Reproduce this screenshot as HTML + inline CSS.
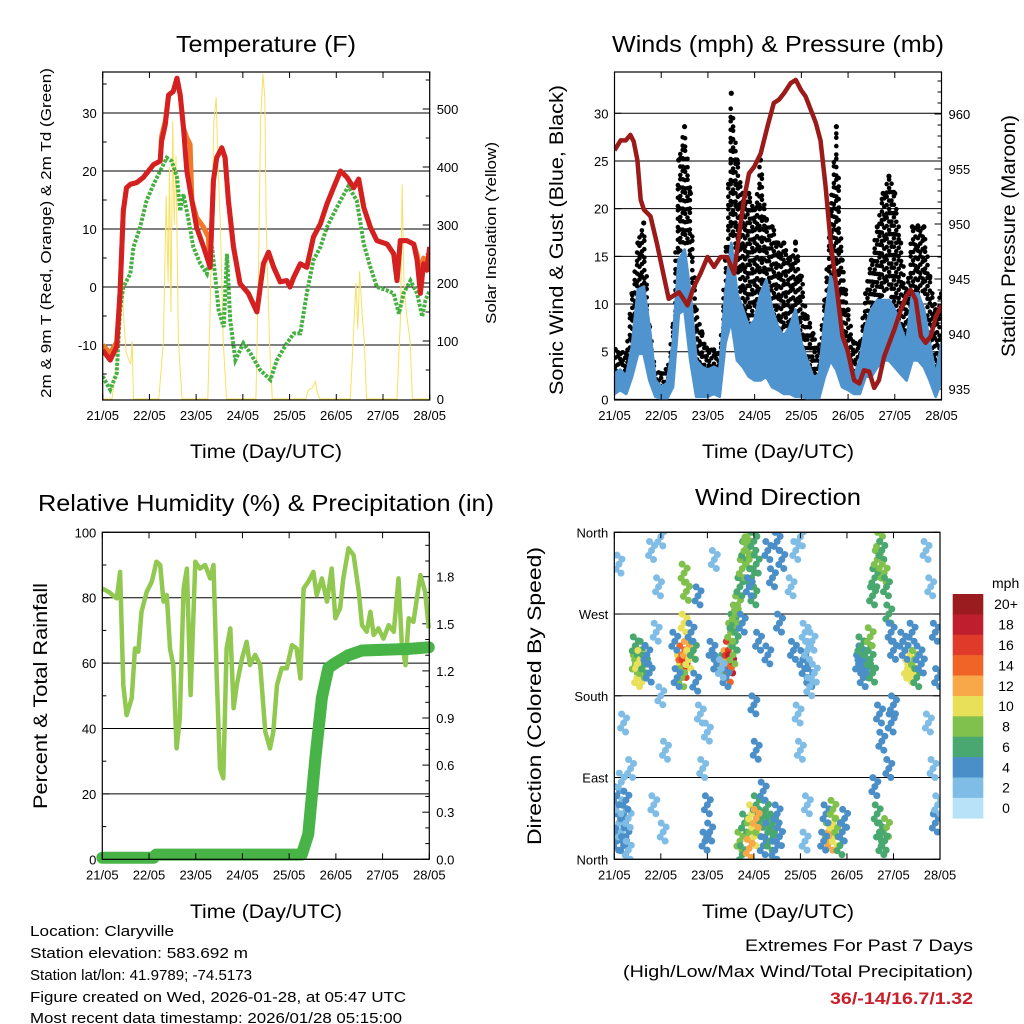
<!DOCTYPE html>
<html><head><meta charset="utf-8"><style>
html,body{margin:0;padding:0;background:#fff}
svg{display:block;font-family:"Liberation Sans",sans-serif}
</style></head><body>
<svg id="s" width="1024" height="1024" viewBox="0 0 1024 1024" xmlns="http://www.w3.org/2000/svg">
<g id="g"></g>
<text x="266" y="52" font-size="23" text-anchor="middle" textLength="180" lengthAdjust="spacingAndGlyphs">Temperature (F)</text>
<text x="778" y="52" font-size="23" text-anchor="middle" textLength="332" lengthAdjust="spacingAndGlyphs">Winds (mph) &amp; Pressure (mb)</text>
<text x="266" y="511" font-size="23" text-anchor="middle" textLength="456" lengthAdjust="spacingAndGlyphs">Relative Humidity (%) &amp; Precipitation (in)</text>
<text x="778" y="505" font-size="23" text-anchor="middle" textLength="166" lengthAdjust="spacingAndGlyphs">Wind Direction</text>
<text x="266" y="458" font-size="19" text-anchor="middle" textLength="152" lengthAdjust="spacingAndGlyphs">Time (Day/UTC)</text>
<text x="778" y="458" font-size="19" text-anchor="middle" textLength="152" lengthAdjust="spacingAndGlyphs">Time (Day/UTC)</text>
<text x="266" y="918" font-size="19" text-anchor="middle" textLength="152" lengthAdjust="spacingAndGlyphs">Time (Day/UTC)</text>
<text x="778" y="918" font-size="19" text-anchor="middle" textLength="152" lengthAdjust="spacingAndGlyphs">Time (Day/UTC)</text>
<text transform="translate(51,233) rotate(-90)" font-size="15" text-anchor="middle" textLength="330" lengthAdjust="spacingAndGlyphs">2m &amp; 9m T (Red, Orange) &amp; 2m Td (Green)</text>
<text transform="translate(496,233) rotate(-90)" font-size="15" text-anchor="middle" textLength="182" lengthAdjust="spacingAndGlyphs">Solar Insolation (Yellow)</text>
<text transform="translate(563,240) rotate(-90)" font-size="19" text-anchor="middle" textLength="310" lengthAdjust="spacingAndGlyphs">Sonic Wind &amp; Gust (Blue, Black)</text>
<text transform="translate(1015,236) rotate(-90)" font-size="19" text-anchor="middle" textLength="242" lengthAdjust="spacingAndGlyphs">Station Pressure (Maroon)</text>
<text transform="translate(47,696) rotate(-90)" font-size="19" text-anchor="middle" textLength="226" lengthAdjust="spacingAndGlyphs">Percent &amp; Total Rainfall</text>
<text transform="translate(541,696) rotate(-90)" font-size="19" text-anchor="middle" textLength="298" lengthAdjust="spacingAndGlyphs">Direction (Colored By Speed)</text>
<g font-size="15">
<text x="30" y="936" textLength="144" lengthAdjust="spacingAndGlyphs">Location: Claryville</text>
<text x="30" y="958" textLength="218" lengthAdjust="spacingAndGlyphs">Station elevation: 583.692 m</text>
<text x="30" y="980" textLength="222" lengthAdjust="spacingAndGlyphs">Station lat/lon: 41.9789; -74.5173</text>
<text x="30" y="1002" textLength="376" lengthAdjust="spacingAndGlyphs">Figure created on Wed, 2026-01-28, at 05:47 UTC</text>
<text x="30" y="1023" textLength="372" lengthAdjust="spacingAndGlyphs">Most recent data timestamp: 2026/01/28 05:15:00</text>
</g>
<text x="973" y="951" font-size="17" text-anchor="end" textLength="228" lengthAdjust="spacingAndGlyphs">Extremes For Past 7 Days</text>
<text x="973" y="977" font-size="17" text-anchor="end" textLength="350" lengthAdjust="spacingAndGlyphs">(High/Low/Max Wind/Total Precipitation)</text>
<text x="973" y="1004" font-size="17" font-weight="bold" fill="#c8202a" text-anchor="end" textLength="143" lengthAdjust="spacingAndGlyphs">36/-14/16.7/1.32</text>
</svg>
<script>
// ---- data ----
const dayLabels=["21/05","22/05","23/05","24/05","25/05","26/05","27/05","28/05"];
const tempT=[0,0.16,0.3,0.37,0.44,0.51,0.59,0.73,0.87,1.09,1.23,1.26,1.34,1.41,1.51,1.59,1.66,1.73,1.8,1.91,2.01,2.16,2.3,2.37,2.44,2.55,2.62,2.69,2.8,2.94,3.12,3.3,3.44,3.55,3.66,3.8,3.94,4.01,4.09,4.23,4.37,4.51,4.66,4.8,4.94,5.09,5.23,5.37,5.48,5.59,5.73,5.87,6.09,6.23,6.3,6.37,6.51,6.66,6.73,6.8,6.87,6.94,7];
const tempF=[-10.9,-12.6,-10.3,-1.1,13.1,17.1,17.7,18,18.9,21.1,21.7,25.1,28,33.1,33.7,36,33.1,27.4,20,14.9,10.3,6.9,3.4,18.3,22.3,24,22.3,14.9,6.9,0.6,-1.1,-4.3,4,6,3.4,0.9,1.1,0,1.7,4,3.4,8.6,10.9,14.3,17.1,20,18.9,17.1,18.6,13.7,10.3,8,7.4,5.7,1.1,8,8,7.4,4.6,-1.1,4,2.9,6.9];
const temp9T=[0,0.16,0.3,0.37,0.44,0.51,0.59,0.73,0.87,1.09,1.23,1.26,1.34,1.41,1.51,1.59,1.66,1.73,1.8,1.87,1.91,2.01,2.16,2.26,2.3,2.37,2.44,2.55,2.62,2.69,2.8,2.94,3.12,3.3,3.44,3.55,3.66,3.8,3.94,4.01,4.09,4.23,4.37,4.51,4.66,4.8,4.94,5.09,5.23,5.37,5.48,5.59,5.73,5.87,6.09,6.23,6.3,6.37,6.51,6.66,6.73,6.8,6.87,6.94,7];
const temp9F=[-10,-11.4,-9.5,-1.1,13.1,17.1,17.7,18,18.9,21.1,21.7,26,28.6,33.1,33.7,36,33.1,27.4,25.7,24.6,14.9,12,10.3,8.6,3.4,18.3,22.3,24,22.3,14.9,6.9,0.6,-1.1,-4.3,4,6,3.4,0.9,1.1,0,1.7,4,3.4,8.6,10.9,14.3,17.1,20,18.9,17.1,18.6,13.7,10.3,8,7.4,5.7,1.1,8,8,7.4,5.5,2,5,2.9,6.9];
const dewT=[0,0.16,0.3,0.37,0.44,0.59,0.66,0.8,0.94,1.09,1.23,1.37,1.48,1.59,1.66,1.73,1.84,1.94,2.09,2.23,2.34,2.41,2.48,2.59,2.66,2.73,2.84,3.01,3.16,3.37,3.59,3.73,3.94,4.09,4.23,4.37,4.51,4.66,4.8,4.94,5.09,5.26,5.44,5.59,5.73,5.87,6.09,6.23,6.34,6.44,6.59,6.73,6.84,6.91,7];
const dewF=[-15.4,-17.7,-14.9,-4,0,2.3,6.9,10.3,14.9,17.7,20,22.3,21.7,18.9,13.1,16,11.4,6.9,4,2.3,6.9,1.7,-4,-6.9,5.7,-5.7,-12.6,-9.7,-11.4,-14.3,-16,-12.6,-9.7,-8,-8,-1.1,4.6,6.9,10.3,12.6,14.9,17.4,14.9,7.4,3.4,0,-0.6,-1.1,-4.6,-1.1,1.1,-1.1,-5.1,-2.3,-0.6];
const solarT=[0,0.2,0.3,0.38,0.41,0.44,0.5,0.6,0.63,0.66,1.2,1.3,1.36,1.4,1.43,1.46,1.5,1.53,1.57,1.62,1.7,2.25,2.3,2.38,2.43,2.47,2.52,2.58,2.65,3.28,3.33,3.38,3.43,3.47,3.5,3.57,3.63,4.35,4.4,4.5,4.55,4.6,4.65,5.3,5.35,5.42,5.46,5.5,5.55,5.6,5.65,6.3,6.38,6.41,6.45,6.5,6.58,6.63,7];
const solarW=[0,0,60,200,300,150,80,60,100,0,0,100,350,200,400,150,480,300,420,100,0,0,150,480,520,400,300,100,0,0,200,480,560,520,300,100,0,0,15,20,30,10,0,0,80,200,120,220,150,100,0,0,150,370,200,150,100,0,0];
const windT=[0,0.125,0.25,0.375,0.5,0.625,0.75,0.875,1,1.125,1.25,1.375,1.5,1.625,1.75,1.875,2,2.125,2.25,2.375,2.5,2.625,2.75,2.875,3,3.125,3.25,3.375,3.5,3.625,3.75,3.875,4,4.125,4.25,4.375,4.5,4.625,4.75,4.875,5,5.125,5.25,5.375,5.5,5.625,5.75,5.875,6,6.125,6.25,6.375,6.5,6.625,6.75,6.875,7];
const gustHigh=[5.2,4.8,4.8,11.1,16.4,18.5,7.6,2.7,2.7,3.1,7.6,25.1,28.6,21.6,9.4,6.9,5.2,5.2,4.8,14.6,32.1,25.1,21.6,21.6,19.9,25.1,18.8,18.1,16.4,16.4,14.6,16.4,12.9,8.7,6.9,5.2,10.4,19.9,28.6,14.6,9.4,5.9,5.9,11.1,14.6,18.1,21.6,23.4,21.6,16.4,11.1,18.1,18.1,18.1,12.9,9.4,11.1];
const gustLow=[2,2,2.4,4.1,11.1,11.1,4.8,1,1,1.3,4.1,14.6,16.4,14.6,2.4,2,2,2.4,1.7,7.6,18.1,12.9,9.4,7.6,9.4,9.4,9.4,7.6,7.6,5.9,5.9,4.1,4.1,2.4,2,1.3,4.1,11.1,12.9,5.9,4.1,2.4,2.4,5.9,7.6,9.4,11.1,11.1,9.4,7.6,5.9,9.4,11.1,11.1,5.9,2.4,4.8];
const speedHigh=[2.7,3.1,2.4,5.5,11.5,11.8,7.6,2,1.3,1.7,5.9,14.6,15.7,11.1,4.1,3.4,3.1,3.4,3.1,11.1,16.4,11.1,9.4,7.6,8.3,11.1,12.5,9.4,7.6,6.6,7.6,9.4,5.9,4.1,2.4,2.4,8.3,12.9,11.1,5.9,4.1,2.4,4.1,7.6,9.4,10.4,10.4,10.4,9.4,7.6,5.9,11.1,11.1,9.4,5.9,2.4,5.9];
const speedLow=[0.6,1,0.6,2.4,4.8,4.8,2,0.3,0.1,0.1,1.3,9,9.4,4.1,0.3,0.3,0.3,0.6,0.3,5.9,8.3,4.1,3.4,2.4,2,2,2.4,1.3,1,0.6,0.6,0.3,0.3,0.1,0.1,0.1,2.4,4.1,3.1,1.3,1,0.6,0.6,2.4,2.4,3.4,4.1,4.1,3.4,2.7,2,4.1,4.1,3.4,2,0.3,2];
const presT=[0,0.13,0.24,0.34,0.41,0.49,0.56,0.63,0.77,0.91,1.06,1.16,1.27,1.38,1.49,1.56,1.7,1.84,1.99,2.13,2.27,2.41,2.56,2.66,2.77,2.88,2.99,3.13,3.27,3.41,3.52,3.63,3.77,3.88,3.99,4.09,4.2,4.31,4.41,4.52,4.63,4.77,4.88,4.99,5.13,5.24,5.34,5.45,5.56,5.66,5.77,5.99,6.13,6.24,6.34,6.45,6.56,6.66,6.77,6.88,7];
const presMb=[956.7,957.6,957.6,958.1,957.5,955.8,952.2,951.3,950.7,948.2,945.2,943.2,943.5,943.8,943.1,942.6,944.3,945.5,947,946.1,947,947,945.5,948.8,952.2,954.6,955.2,956.4,958.8,961,961.3,961.9,962.8,963.1,962.2,961.6,960.4,959.2,957.6,953.4,948.2,943.7,939.8,938.5,935.8,935.5,936.7,936.6,935.1,935.8,937.9,940.4,942.2,943.4,944,943.1,939.8,939.2,939.8,941.6,942.6];
const rhT=[0,0.13,0.31,0.38,0.45,0.52,0.63,0.7,0.77,0.84,0.95,1.06,1.16,1.24,1.31,1.38,1.45,1.52,1.59,1.66,1.74,1.81,1.89,1.99,2.09,2.2,2.31,2.38,2.45,2.52,2.59,2.66,2.74,2.81,2.88,2.99,3.09,3.16,3.27,3.38,3.49,3.59,3.66,3.74,3.84,3.95,4.06,4.16,4.24,4.31,4.41,4.52,4.59,4.7,4.81,4.91,4.99,5.09,5.16,5.27,5.38,5.49,5.56,5.66,5.74,5.81,5.91,6.02,6.13,6.24,6.34,6.41,6.49,6.56,6.66,6.81,6.91,6.99];
const rhPct=[82.8,81.8,79.8,87.9,53.3,44.1,49.2,64.5,63.5,75.7,81.8,84.9,91,90,78.8,80.8,64.5,59.4,33.9,43.1,82.8,88.9,50.2,91,88.9,90,85.9,90,55.3,27.8,24.8,64.5,70.6,46.2,53.3,61.4,66.5,59.4,62.5,59.4,39,33.9,39,53.3,58.4,58.4,65.5,64.5,55.3,82.8,84.9,87.9,80.8,85.9,78.8,88.9,73.7,76.8,85.9,95.1,93,81.8,71.6,69.6,75.7,68.6,70.6,67.5,71.6,69.6,85.9,66.5,59.4,73.7,72.6,86.9,81.8,70.6];
const rainT=[0,1.1,1.15,4.2,4.27,4.41,4.56,4.7,4.84,4.99,5.27,5.56,6.56,6.99];
const rainIn=[0.01,0.01,0.03,0.03,0.03,0.16,0.64,1.03,1.22,1.25,1.3,1.33,1.34,1.35];
const dirT=[0.05,0.1,0.15,0.2,0.25,0.1,0.3,0.05,0.2,0.15,0.3,0.25,
0.45,0.5,0.55,0.6,0.5,0.6,0.45,0.55,0.65,0.7,0.75,
0.1,0.2,0.35,0.8,0.95,1.0,0.9,0.85,1.05,1.1,1.0,
1.4,1.45,1.5,1.55,1.45,1.6,1.3,1.35,1.7,1.5,1.55,1.5,1.75,1.65,
1.85,1.9,2.0,2.05,1.95,2.1,2.2,2.15,1.8,2.0,
2.35,2.4,2.45,2.5,2.45,2.55,2.6,2.4,2.3,2.5,2.55,2.6,
2.65,2.7,2.75,2.8,2.85,2.9,2.95,3.0,2.75,2.85,3.0,3.05,2.9,3.1,3.0,3.05,
2.7,2.75,2.8,2.9,2.95,3.0,3.05,3.1,3.15,3.2,3.25,3.3,3.35,3.4,3.45,3.5,3.55,3.2,2.9,3.05,
3.3,3.4,3.5,3.6,3.55,3.3,3.8,3.9,4.0,3.95,4.1,4.15,4.0,3.85,
4.05,4.1,4.15,4.2,4.25,4.3,4.1,4.2,
4.6,4.65,4.7,4.75,4.8,4.85,4.55,4.7,4.9,4.5,4.95,
5.25,5.3,5.35,5.3,5.4,5.45,5.5,5.55,5.5,
5.55,5.6,5.65,5.7,5.75,5.8,5.85,5.9,5.95,6.0,5.7,5.75,5.6,5.65,5.7,5.75,5.85,5.8,5.9,5.95,6.0,
6.3,6.35,6.4,6.45,6.5,6.25,6.55,6.6,6.2,6.4,
6.7,6.8,6.9,6.95,6.85,6.9,6.95,6.75];
const dirDeg=[20,40,30,50,25,60,45,70,15,85,10,65,
215,225,205,230,200,210,235,220,215,225,205,
325,150,100,340,300,180,250,60,30,120,355,
215,225,210,230,200,220,240,200,230,260,295,315,195,250,
160,100,60,30,20,230,215,330,290,140,
215,220,230,215,205,225,240,200,210,250,260,270,
280,300,320,340,355,330,310,290,260,345,350,325,300,240,170,120,
20,5,40,30,50,25,60,35,45,15,55,30,20,40,10,50,25,75,12,45,
340,310,350,330,260,225,300,340,355,160,20,60,120,230,
220,210,230,200,240,205,250,190,
30,20,40,25,35,15,50,55,30,20,45,
215,225,200,235,210,230,220,205,245,
290,310,330,350,340,315,300,270,250,230,160,130,80,50,30,15,35,20,100,150,170,
210,205,215,220,200,230,225,215,240,250,
340,300,250,200,100,40,60,150];
const dirSpd=[3,3,2,3,3,2,2,3,4,2,2,3,
7,8,9,6,10,8,6,9,5,4,3,
1,1,1,1,2,1,2,1,1,1,1,
10,14,16,12,8,9,4,4,5,10,7,7,4,4,
2,2,4,3,3,3,3,2,3,2,
6,12,16,18,14,8,6,3,2,8,6,8,
7,6,8,6,7,8,6,5,4,8,6,5,4,4,4,4,
7,6,5,8,9,10,6,8,5,4,5,4,6,5,4,4,3,4,12,11,
4,3,4,3,4,4,2,1,1,2,2,1,2,3,
3,4,2,3,2,2,2,1,
8,12,10,9,7,6,4,8,4,4,4,
4,3,4,5,4,6,5,6,7,
6,5,7,8,6,7,5,6,4,4,4,4,4,6,5,6,8,6,4,4,4,
10,10,9,7,6,4,4,3,4,3,
2,2,3,4,2,3,2,2];
const speedBins=["0","2","4","6","8","10","12","14","16","18","20+"];
const binColors=["#b8e2f8","#7fbde6","#4a8fc8","#48a870","#80c04c","#e8e058","#f8a848","#f06428","#e03a2a","#bf1e2e","#9b1c1f"];

// ---- helpers ----
const NS="http://www.w3.org/2000/svg";
const G=document.getElementById('g');
function el(tag,attrs,parent){const e=document.createElementNS(NS,tag);for(const k in attrs)e.setAttribute(k,attrs[k]);(parent||G).appendChild(e);return e;}
function lin(d0,d1,r0,r1){return v=>r0+(v-d0)*(r1-r0)/(d1-d0);}
function pts(xs,ys,fx,fy){return xs.map((t,i)=>fx(t).toFixed(1)+","+fy(ys[i]).toFixed(1)).join(" ");}
function interp(xs,ys,t){for(let i=1;i<xs.length;i++){if(t<=xs[i]){const f=(t-xs[i-1])/(xs[i]-xs[i-1]);return ys[i-1]+f*(ys[i]-ys[i-1]);}}return ys[ys.length-1];}

function frame(x0,x1,y0,y1,name){
  const r=el('rect',{x:x0,y:y0,width:x1-x0,height:y1-y0,fill:'none',stroke:'#000','stroke-width':1.2});
  
  
  const fx=lin(0,7,x0,x1);
  dayLabels.forEach((d,i)=>{
    const x=fx(i);
    el('line',{x1:x,x2:x,y1:y1,y2:y1-6,stroke:'#000'});
    el('line',{x1:x,x2:x,y1:y0,y2:y0+6,stroke:'#000'});
    const t=el('text',{x:x,y:y1+20,'font-size':13,'text-anchor':'middle'});
    t.textContent=d;
    
    
  });
  return fx;
}
function yAxis(x0,x1,fy,ticks,labels,side,grid,minor){
  ticks.forEach((v,i)=>{
    const y=fy(v);
    if(grid) el('line',{x1:x0,x2:x1,y1:y,y2:y,stroke:'#000','stroke-width':1});
    const xa=side==='l'?x0:x1, dir=side==='l'?1:-1;
    el('line',{x1:xa,x2:xa+dir*7,y1:y,y2:y,stroke:'#000'});
    const t=el('text',{x:side==='l'?x0-6:x1+7,y:y+5,'font-size':13,'text-anchor':side==='l'?'end':'start'});
    t.textContent=labels[i];
    
    
  });
  (minor||[]).forEach(v=>{const y=fy(v);const xa=side==='l'?x0:x1, dir=side==='l'?1:-1;
    el('line',{x1:xa,x2:xa+dir*4,y1:y,y2:y,stroke:'#000'});});
}

// ---- Panel 1: Temperature ----
(function(){
  const X0=102.7,X1=429.7,Y0=72,Y1=400;
  const fx=lin(0,7,X0,X1), fy=lin(0,-10,287,345), fs=lin(0,100,399,341);
  yAxis(X0,X1,fy,[30,20,10,0,-10],["30","20","10","0","-10"],'l',true,[35,25,15,5,-5,-15]);
  yAxis(X0,X1,fs,[0,100,200,300,400,500],["0","100","200","300","400","500"],'r',false,[50,150,250,350,450,550]);
  const cp=el('clipPath',{id:'c1'});el('rect',{x:X0,y:Y0,width:X1-X0,height:Y1-Y0},cp);
  const gg=el('g',{'clip-path':'url(#c1)'});
  let p=el('polyline',{points:pts(solarT,solarW,fx,fs),fill:'none',stroke:'#f8e060','stroke-width':1},gg);
  
  p=el('polyline',{points:pts(dewT,dewF,fx,fy),fill:'none',stroke:'#44b040','stroke-width':4,'stroke-dasharray':'3 1.5'},gg);
  
  p=el('polyline',{points:pts(temp9T,temp9F,fx,fy),fill:'none',stroke:'#f07828','stroke-width':5,'stroke-linejoin':'round'},gg);
  
  p=el('polyline',{points:pts(tempT,tempF,fx,fy),fill:'none',stroke:'#d42020','stroke-width':5,'stroke-linejoin':'round'},gg);
  
  frame(X0,X1,Y0,Y1,'temperature');
})();

// ---- Panel 2: Winds ----
(function(){
  const X0=614.5,X1=941.5,Y0=72,Y1=400;
  const fx=lin(0,7,X0,X1), fy=lin(0,30,399.4,113.3), fp=lin(935,960,389,114);
  yAxis(X0,X1,fy,[0,5,10,15,20,25,30],["0","5","10","15","20","25","30"],'l',true,[]);
  yAxis(X0,X1,fp,[935,940,945,950,955,960],["935","940","945","950","955","960"],'r',false,[936,937,938,939,941,942,943,944,946,947,948,949,951,952,953,954,956,957,958,959,961,962,963]);
  const cp=el('clipPath',{id:'c2'});el('rect',{x:X0,y:Y0,width:X1-X0,height:Y1-Y0},cp);
  const gg=el('g',{'clip-path':'url(#c2)'});
  // gust dot cloud (texture between gustLow and gustHigh envelopes)
  const gd=el('g',{fill:'#000'},gg);
  
  
  let col=0;
  for(let x=X0+1;x<X1;x+=2.4,col++){
    const t=(x-X0)/(X1-X0)*7;
    const hi=fy(interp(windT,gustHigh,t)), lo=fy(interp(windT,gustLow,t));
    let row=0;
    for(let y=hi;y<=lo+0.1;y+=4.2,row++){
      if(((col*7+row*3)%5)<3) el('circle',{cx:x.toFixed(1),cy:(y+((col%3)-1)*1.3).toFixed(1),r:2.3},gd);
    }
  }
  windT.forEach((t,i)=>{const c=el('circle',{cx:fx(t),cy:fy(gustHigh[i]),r:2.6,fill:'#000'},gg);
    });
  // lower gust fill to hide under blue
  const top=windT.map((t,i)=>fx(t).toFixed(1)+","+fy(speedHigh[i]).toFixed(1));
  const bot=windT.map((t,i)=>fx(t).toFixed(1)+","+fy(speedLow[i]).toFixed(1)).reverse();
  const e=el('polygon',{points:top.concat(bot).join(" "),fill:'#4f94cf',stroke:'#4f94cf','stroke-width':3,'stroke-linejoin':'round'},gg);
  
  const p=el('polyline',{points:pts(presT,presMb,fx,fp),fill:'none',stroke:'#9b1a1a','stroke-width':4.5,'stroke-linejoin':'round'},gg);
  
  frame(X0,X1,Y0,Y1,'winds');
})();

// ---- Panel 3: RH & precip ----
(function(){
  const X0=102.3,X1=429.3,Y0=532.3,Y1=859.3;
  const fx=lin(0,7,X0,X1), fy=lin(0,100,Y1,Y0), fr=lin(0,0.3,Y1,Y1-47.1);
  yAxis(X0,X1,fy,[0,20,40,60,80,100],["0","20","40","60","80","100"],'l',true,[10,30,50,70,90]);
  yAxis(X0,X1,fr,[0,0.3,0.6,0.9,1.2,1.5,1.8],["0.0","0.3","0.6","0.9","1.2","1.5","1.8"],'r',false,[0.1,0.2,0.4,0.5,0.7,0.8,1,1.1,1.3,1.4,1.6,1.7,1.9,2]);
  const cp=el('clipPath',{id:'c3'});el('rect',{x:X0-6,y:Y0,width:X1-X0+12,height:Y1-Y0+6},cp);
  const gg=el('g',{'clip-path':'url(#c3)'});
  let p=el('polyline',{points:pts(rhT,rhPct,fx,fy),fill:'none',stroke:'#90c850','stroke-width':4.5,'stroke-linejoin':'round'},gg);
  
  p=el('polyline',{points:pts(rainT,rainIn,fx,fr),fill:'none',stroke:'#48b448','stroke-width':12,'stroke-linecap':'round','stroke-linejoin':'round'},gg);
  
  frame(X0,X1,Y0,Y1,'humidity');
})();

// ---- Panel 4: Wind direction ----
(function(){
  const X0=614.3,X1=940,Y0=532.3,Y1=859.3;
  const fx=lin(0,7,X0,X1), fy=lin(0,360,Y1,Y0);
  yAxis(X0,X1,fy,[0,90,180,270,360],["North","East","South","West","North"],'l',true,[]);
  [0,90,180,270,360].forEach(v=>el('line',{x1:X1,x2:X1-7,y1:fy(v),y2:fy(v),stroke:'#000'}));
  const cp=el('clipPath',{id:'c4'});el('rect',{x:X0,y:Y0,width:X1-X0,height:Y1-Y0},cp);
  const gg=el('g',{'clip-path':'url(#c4)'});
  // each observation drawn as a small blob of overlapping dots
  const offs=[[0,0],[3,-5],[-3,5],[2,9],[-2,-9]];
  dirT.forEach((t,i)=>{
    const b=Math.min(10,Math.round(dirSpd[i]/2));
    const g2=el('g',{fill:binColors[b]},gg);
    
    
    offs.forEach(o=>el('circle',{cx:fx(t)+o[0],cy:fy(dirDeg[i])+o[1],r:3.5},g2));
  });
  frame(X0,X1,Y0,Y1,'wind-direction');
  const t=el('text',{x:992,y:588,'font-size':14});t.textContent='mph';
  
  const bh=(818.3-594)/11;
  speedBins.forEach((lab,i)=>{
    const k=10-i, y=594+i*bh;
    const r=el('rect',{x:952.7,y:y,width:30.6,height:bh+0.3,fill:binColors[k]});
    
    const tx=el('text',{x:1006,y:y+bh/2+5,'font-size':14,'text-anchor':'middle'});tx.textContent=speedBins[k];
    
  });
})();
</script>
</body></html>
